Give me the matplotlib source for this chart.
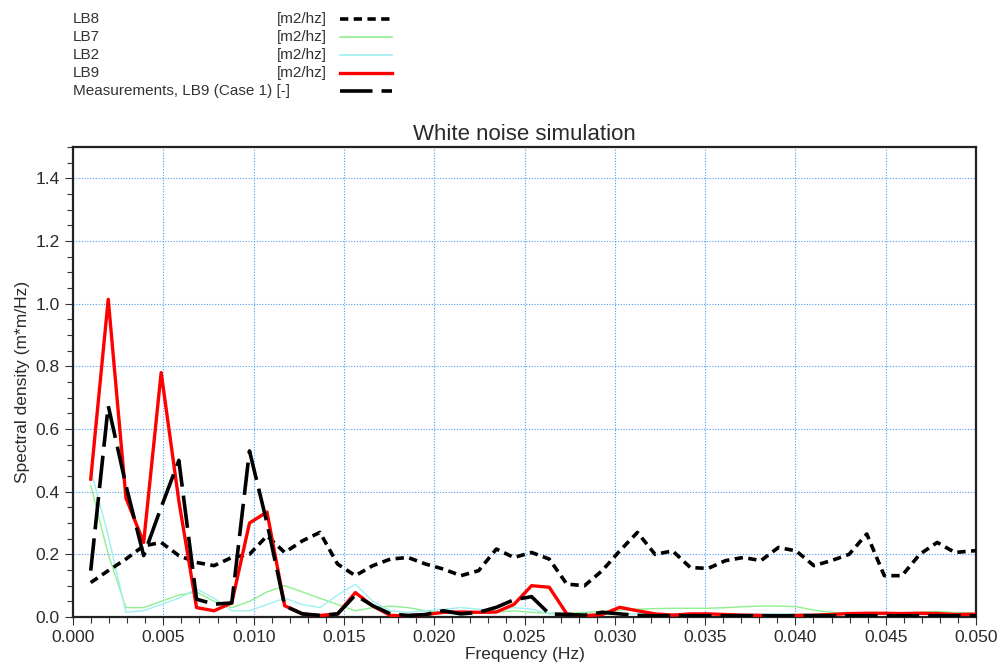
import numpy as np
import matplotlib.pyplot as plt
from matplotlib.lines import Line2D
from matplotlib.ticker import MultipleLocator, FormatStrFormatter

# ------------------------------------------------------------
# Spectral density estimates, frequency step 1/1024 Hz
# ------------------------------------------------------------
freq = [0.00098, 0.00195, 0.00293, 0.00391, 0.00488, 0.00586, 0.00684, 0.00781,
        0.00879, 0.00977, 0.01074, 0.01172, 0.01270, 0.01367, 0.01465, 0.01563,
        0.01660, 0.01758, 0.01855, 0.01953, 0.02051, 0.02148, 0.02246, 0.02344,
        0.02441, 0.02539, 0.02637, 0.02734, 0.02832, 0.02930, 0.03027, 0.03125,
        0.03223, 0.03320, 0.03418, 0.03516, 0.03613, 0.03711, 0.03809, 0.03906,
        0.04004, 0.04102, 0.04199, 0.04297, 0.04395, 0.04492, 0.04590, 0.04688,
        0.04785, 0.04883, 0.04980, 0.05078]

lb8 = [0.110, 0.148, 0.185, 0.227, 0.238, 0.196, 0.174, 0.164, 0.190, 0.200,
       0.259, 0.206, 0.243, 0.270, 0.169, 0.132, 0.164, 0.185, 0.190, 0.169,
       0.153, 0.132, 0.148, 0.217, 0.190, 0.206, 0.185, 0.105, 0.100, 0.148,
       0.211, 0.270, 0.200, 0.211, 0.158, 0.155, 0.180, 0.190, 0.180, 0.222,
       0.211, 0.164, 0.180, 0.200, 0.265, 0.132, 0.132, 0.200, 0.238, 0.206,
       0.211, 0.215]

lb7 = [0.420, 0.200, 0.030, 0.030, 0.050, 0.070, 0.080, 0.050, 0.030, 0.050,
       0.080, 0.100, 0.080, 0.060, 0.040, 0.020, 0.030, 0.035, 0.030, 0.020,
       0.012, 0.010, 0.012, 0.015, 0.020, 0.015, 0.012, 0.012, 0.015, 0.018,
       0.022, 0.025, 0.027, 0.028, 0.028, 0.028, 0.030, 0.033, 0.035, 0.035,
       0.033, 0.022, 0.015, 0.013, 0.013, 0.013, 0.014, 0.015, 0.018, 0.014,
       0.012, 0.012]

lb2 = [0.470, 0.260, 0.015, 0.020, 0.040, 0.060, 0.090, 0.060, 0.020, 0.020,
       0.040, 0.060, 0.040, 0.030, 0.070, 0.105, 0.050, 0.020, 0.015, 0.020,
       0.025, 0.030, 0.025, 0.020, 0.030, 0.025, 0.010, 0.010, 0.010, 0.010,
       0.010, 0.010, 0.010, 0.010, 0.010, 0.010, 0.010, 0.010, 0.010, 0.010,
       0.010, 0.010, 0.010, 0.010, 0.010, 0.010, 0.010, 0.010, 0.010, 0.010,
       0.010, 0.010]

lb9 = [0.440, 1.014, 0.380, 0.238, 0.780, 0.370, 0.030, 0.020, 0.045, 0.300,
       0.335, 0.036, 0.010, 0.005, 0.010, 0.078, 0.035, 0.005, 0.004, 0.008,
       0.015, 0.016, 0.015, 0.016, 0.040, 0.100, 0.095, 0.010, 0.004, 0.008,
       0.031, 0.020, 0.010, 0.006, 0.010, 0.010, 0.008, 0.006, 0.005, 0.004,
       0.005, 0.006, 0.008, 0.011, 0.012, 0.012, 0.011, 0.012, 0.011, 0.008,
       0.009, 0.009]

meas_lb9 = [0.148, 0.674, 0.420, 0.196, 0.350, 0.500, 0.057, 0.041, 0.045, 0.530,
            0.300, 0.036, 0.010, 0.005, 0.010, 0.070, 0.036, 0.010, 0.005, 0.008,
            0.020, 0.010, 0.015, 0.031, 0.055, 0.065, 0.010, 0.008, 0.006, 0.015,
            0.010, 0.005, 0.004, 0.004, 0.004, 0.004, 0.004, 0.004, 0.004, 0.004,
            0.004, 0.004, 0.004, 0.004, 0.004, 0.004, 0.004, 0.004, 0.004, 0.004,
            0.004, 0.004]

# line styles shared by plot and legend block
GREEN = '#8fef8f'
CYAN = '#9fefef'
SHORT_DASH = (0, (2.3, 1.5))
LONG_DASH = (0, (9, 2.5))
TXT = '#2a2a2a'

plt.rcParams['font.family'] = ['Liberation Sans', 'DejaVu Sans']

fig = plt.figure(figsize=(9.99, 6.72), dpi=100)
ax = fig.add_axes([0.0731, 0.0818, 0.9039, 0.6995])

ax.plot(freq, lb7, color=GREEN, lw=1.0, zorder=2)
ax.plot(freq, lb2, color=CYAN, lw=1.0, zorder=2)
ax.plot(freq, lb8, color='black', lw=2.6, linestyle=SHORT_DASH, zorder=3)
ax.plot(freq, lb9, color='#ff0000', lw=2.4, zorder=4)
ax.plot(freq, meas_lb9, color='black', lw=2.6, linestyle=LONG_DASH, zorder=5)

ax.set_xlim(0.0, 0.05)
ax.set_ylim(0.0, 1.5)
ax.xaxis.set_major_locator(MultipleLocator(0.005))
ax.xaxis.set_minor_locator(MultipleLocator(0.001))
ax.yaxis.set_major_locator(MultipleLocator(0.2))
ax.yaxis.set_minor_locator(MultipleLocator(0.05))
ax.xaxis.set_major_formatter(FormatStrFormatter('%.3f'))
ax.yaxis.set_major_formatter(FormatStrFormatter('%.1f'))

ax.grid(which='major', color='#4d9cf0', linestyle=(0, (1, 1.5)), lw=0.8)
ax.tick_params(which='major', direction='out', length=6, width=0.8,
               colors='#333333', labelcolor=TXT, labelsize=12.5)
ax.tick_params(which='minor', direction='out', length=4, width=0.8,
               colors='#333333')
for sp in ax.spines.values():
    sp.set_linewidth(1.6)
    sp.set_color('#222222')

ax.set_title('White noise simulation', fontsize=16, color=TXT, pad=5)
ax.set_xlabel('Frequency (Hz)', fontsize=12.5, color=TXT, labelpad=1)
ax.set_ylabel('Spectral density (m*m/Hz)', fontsize=12.5, color=TXT,
              labelpad=4)

# ------------------------------------------------------------
# Legend block above the axes
# ------------------------------------------------------------
rows = [('LB8', '[m2/hz]', dict(color='black', lw=2.6, linestyle=SHORT_DASH)),
        ('LB7', '[m2/hz]', dict(color=GREEN, lw=1.2)),
        ('LB2', '[m2/hz]', dict(color=CYAN, lw=1.2)),
        ('LB9', '[m2/hz]', dict(color='#ff0000', lw=2.4)),
        ('Measurements, LB9 (Case 1) [-]', '', dict(color='black', lw=2.6,
                                                  linestyle=LONG_DASH))]
W, H = 999.0, 672.0
for i, (name, unit, style) in enumerate(rows):
    yc = 1 - (19 + i * 18) / H
    fig.text(73 / W, yc, name, fontsize=11, color='#333333', va='center')
    if unit:
        fig.text(277 / W, yc, unit, fontsize=11, color='#333333', va='center')
    fig.add_artist(Line2D([340 / W, 392 / W], [yc, yc],
                          transform=fig.transFigure, **style))

fig.savefig('out.png', dpi=100)
